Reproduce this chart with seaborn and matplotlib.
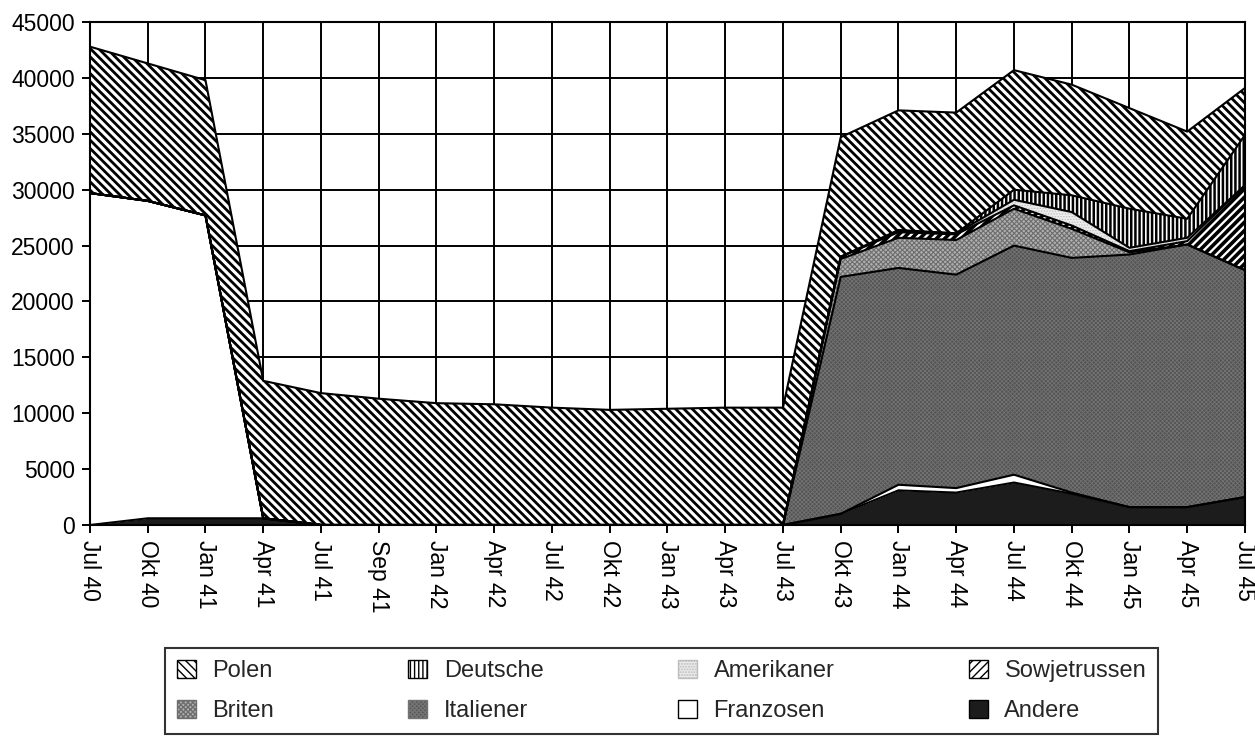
import numpy as np
import matplotlib as mpl
import matplotlib.pyplot as plt
import seaborn as sns
import pandas as pd
from matplotlib.patches import Patch

sns.set_theme(style="white")
plt.rcParams["font.family"] = ["Liberation Sans", "DejaVu Sans"]

months = ["Jul 40", "Okt 40", "Jan 41", "Apr 41", "Jul 41", "Sep 41", "Jan 42",
          "Apr 42", "Jul 42", "Okt 42", "Jan 43", "Apr 43", "Jul 43", "Okt 43",
          "Jan 44", "Apr 44", "Jul 44", "Okt 44", "Jan 45", "Apr 45", "Jul 45"]

# stacked from the bottom up
andere = [0, 600, 600, 600, 0, 0, 0, 0, 0, 0, 0, 0, 0,
          1000, 3100, 2900, 3800, 2800, 1600, 1600, 2500]
franzosen = [29700, 28400, 27100, 0, 0, 0, 0, 0, 0, 0, 0, 0, 0,
             0, 500, 400, 700, 100, 0, 0, 0]
italiener = [0, 0, 0, 0, 0, 0, 0, 0, 0, 0, 0, 0, 0,
             21200, 19400, 19100, 20500, 21000, 22600, 23500, 20300]
briten = [0, 0, 0, 0, 0, 0, 0, 0, 0, 0, 0, 0, 0,
          1600, 2700, 3100, 3300, 2600, 200, 0, 0]
sowjetrussen = [0, 0, 0, 0, 0, 0, 0, 0, 0, 0, 0, 0, 0,
                200, 500, 500, 300, 300, 100, 300, 7600]
amerikaner = [0, 0, 0, 0, 0, 0, 0, 0, 0, 0, 0, 0, 0,
              0, 100, 100, 500, 1200, 300, 300, 0]
deutsche = [0, 0, 0, 0, 0, 0, 0, 0, 0, 0, 0, 0, 0,
            0, 100, 0, 900, 1500, 3500, 1700, 4500]
polen = [13100, 12300, 12100, 12300, 11800, 11300, 10900, 10800, 10500, 10300,
         10400, 10500, 10500, 10700, 10700, 10800, 10700, 9900, 9000, 7800, 4200]

df = pd.DataFrame({
    "Andere": andere, "Franzosen": franzosen, "Italiener": italiener,
    "Briten": briten, "Sowjetrussen": sowjetrussen, "Amerikaner": amerikaner,
    "Deutsche": deutsche, "Polen": polen,
}, index=months)

# face colour, hatch, hatch colour, hatch width
styles = {
    "Andere": ("#1c1c1c", None, "#1c1c1c", 1.0),
    "Franzosen": ("white", None, "white", 1.0),
    "Italiener": ("#535353", "xxxxxxxx", "#737373", 0.6),
    "Briten": ("#b0b0b0", "xxxxxxx", "#6e6e6e", 0.8),
    "Sowjetrussen": ("white", "////", "black", 2.6),
    "Amerikaner": ("#ececec", "......", "#bdbdbd", 0.6),
    "Deutsche": ("white", "||||", "black", 1.8),
    "Polen": ("white", "\\\\\\\\", "black", 2.0),
}


def make_fill(ax, x, lo, hi, style):
    fc, hatch, hc, hlw = style
    with mpl.rc_context({"hatch.linewidth": hlw}):
        coll = ax.fill_between(x, lo, hi, facecolor=fc, edgecolor=hc,
                               hatch=hatch, linewidth=0, zorder=2)
    if hasattr(coll, "set_hatch_linewidth"):
        coll.set_hatch_linewidth(hlw)
    return coll


fig = plt.figure(figsize=(12.55, 7.36), dpi=100)
ax = fig.add_axes([0.0717, 0.2867, 0.9203, 0.6833])

x = np.arange(len(months))
base = np.zeros(len(months))
for name in df.columns:
    top = base + df[name].values
    make_fill(ax, x, base, top, styles[name])
    base = top

# layer outlines
cum = df.cumsum(axis=1)
for name in df.columns:
    sns.lineplot(x=x, y=cum[name].values, ax=ax, color="black", linewidth=1.5,
                 zorder=3, legend=False)

ax.set_xlim(0, len(months) - 1)
ax.set_ylim(0, 45000)
ax.set_xticks(x)
ax.set_xticklabels(months, rotation=-90, fontsize=16.5)
ax.set_yticks(np.arange(0, 45001, 5000))
ax.set_yticklabels([str(v) for v in range(0, 45001, 5000)], fontsize=16.5)
ax.grid(True, color="black", linewidth=1.4)
ax.set_axisbelow(True)
for s in ax.spines.values():
    s.set_color("black")
    s.set_linewidth(1.5)
ax.tick_params(axis="both", direction="out", length=6, width=1.4,
               color="black", labelcolor="black", bottom=True, left=True, pad=5)

legend_order = ["Polen", "Briten", "Deutsche", "Italiener",
                "Amerikaner", "Franzosen", "Sowjetrussen", "Andere"]
handles = []
for name in legend_order:
    fc, hatch, hc, hlw = styles[name]
    edge = hc if name in ("Italiener", "Briten", "Amerikaner") else "black"
    with mpl.rc_context({"hatch.linewidth": min(hlw, 1.2)}):
        p = Patch(facecolor=fc, hatch=hatch, edgecolor=edge, linewidth=1.0,
                  label=name)
    handles.append(p)
leg = fig.legend(handles=handles, loc="upper center", bbox_to_anchor=(0.527, 0.1196),
                 ncol=4, fontsize=17, frameon=True, fancybox=False,
                 edgecolor="black", handlelength=0.8, handleheight=0.8,
                 columnspacing=5.7, labelspacing=0.75, borderpad=0.5,
                 borderaxespad=0, handletextpad=0.7)
leg.get_frame().set_linewidth(1.5)

fig.savefig("out.png", dpi=100)
